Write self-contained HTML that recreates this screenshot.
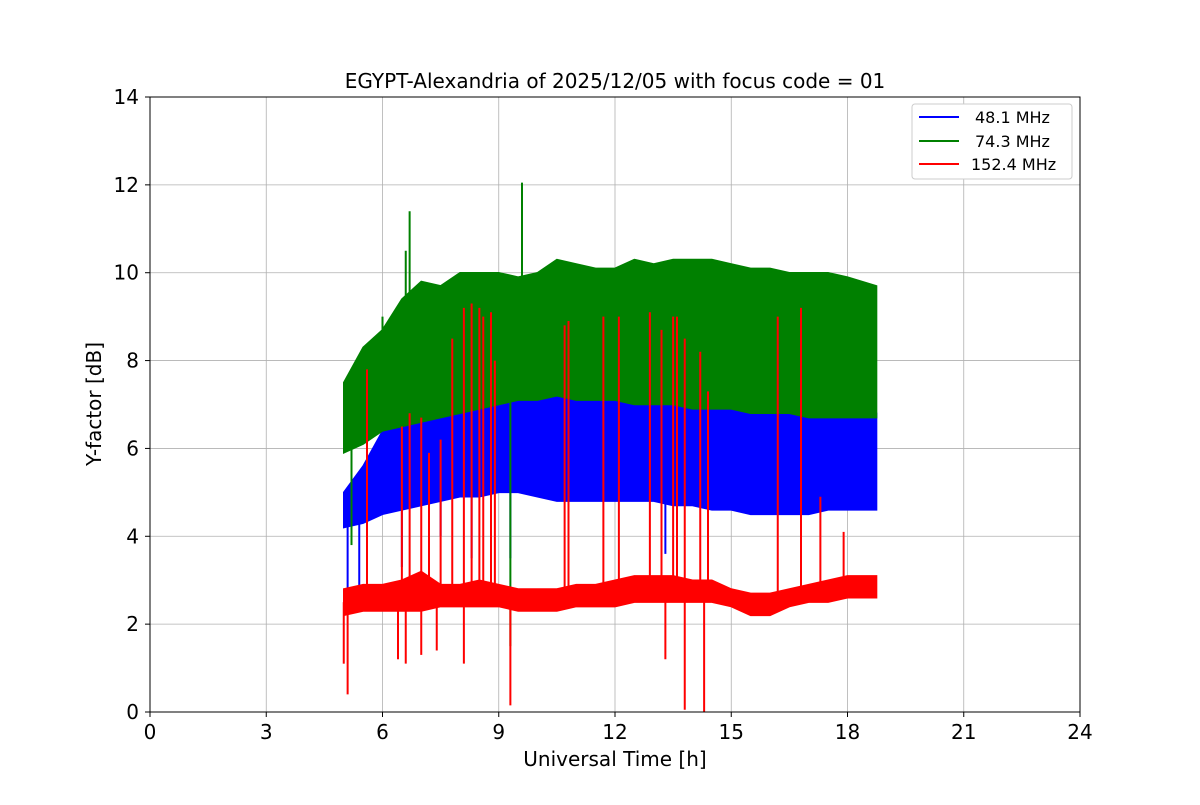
<!DOCTYPE html>
<html><head><meta charset="utf-8"><style>
body{margin:0;background:#fff}
svg text{font-family:"DejaVu Sans","Liberation Sans",sans-serif}
</style></head><body>
<svg id="chart" width="1200" height="800" xmlns="http://www.w3.org/2000/svg">
<rect width="1200" height="800" fill="#fff"/>
<g id="grid"></g>
<g id="series"></g>
<rect x="150" y="97" width="930" height="615" fill="none" stroke="#000" stroke-width="1"/>
<g id="ticks"></g>
<text x="615" y="88" font-size="20" text-anchor="middle">EGYPT-Alexandria of 2025/12/05 with focus code = 01</text>
<text x="615" y="766" font-size="20" text-anchor="middle">Universal Time [h]</text>
<text transform="translate(101,404) rotate(-90)" font-size="20" text-anchor="middle">Y-factor [dB]</text>
<g>
<rect x="912" y="104" width="160" height="75" rx="3" fill="#fff" stroke="#ccc"/>
<line x1="919" y1="117" x2="959" y2="117" stroke="blue" stroke-width="2"/>
<text x="975" y="123" font-size="16">48.1 MHz</text>
<line x1="919" y1="141" x2="959" y2="141" stroke="green" stroke-width="2"/>
<text x="975" y="147" font-size="16">74.3 MHz</text>
<line x1="919" y1="164" x2="959" y2="164" stroke="red" stroke-width="2"/>
<text x="971" y="170" font-size="16">152.4 MHz</text>
</g>
</svg>
<script>
const times=[5.0,5.5,6.0,6.5,7.0,7.5,8.0,8.5,9.0,9.5,10.0,10.5,11.0,11.5,12.0,12.5,13.0,13.5,14.0,14.5,15.0,15.5,16.0,16.5,17.0,17.5,18.0,18.75];
const blueLo=[4.2,4.3,4.5,4.6,4.7,4.8,4.9,4.9,5.0,5.0,4.9,4.8,4.8,4.8,4.8,4.8,4.8,4.7,4.7,4.6,4.6,4.5,4.5,4.5,4.5,4.6,4.6,4.6];
const blueHi=[5.0,5.6,6.4,6.7,6.9,7.0,7.1,7.2,7.3,7.3,7.2,7.3,7.3,7.3,7.4,7.3,7.3,7.2,7.2,7.1,7.0,6.9,6.9,6.9,6.9,6.9,6.9,6.8];
const greenLo=[5.9,6.1,6.4,6.5,6.6,6.7,6.8,6.9,7.0,7.1,7.1,7.2,7.1,7.1,7.1,7.0,7.0,7.0,6.9,6.9,6.9,6.8,6.8,6.8,6.7,6.7,6.7,6.7];
const greenHi=[7.5,8.3,8.7,9.4,9.8,9.7,10.0,10.0,10.0,9.9,10.0,10.3,10.2,10.1,10.1,10.3,10.2,10.3,10.3,10.3,10.2,10.1,10.1,10.0,10.0,10.0,9.9,9.7];
const redLo=[2.2,2.3,2.3,2.3,2.3,2.4,2.4,2.4,2.4,2.3,2.3,2.3,2.4,2.4,2.4,2.5,2.5,2.5,2.5,2.5,2.4,2.2,2.2,2.4,2.5,2.5,2.6,2.6];
const redHi=[2.8,2.9,2.9,3.0,3.2,2.9,2.9,3.0,2.9,2.8,2.8,2.8,2.9,2.9,3.0,3.1,3.1,3.1,3.0,3.0,2.8,2.7,2.7,2.8,2.9,3.0,3.1,3.1];
const greenSpikeT=[5.2,6.7,9.3,9.6,6.6,6.0];
const greenSpikeV=[3.8,11.4,1.5,12.05,10.5,9.0];
const blueSpikeT=[5.1,5.4,6.5,7.5,8.3,9.3,13.3];
const blueSpikeV=[2.5,2.5,3.3,4.0,3.5,3.5,3.6];
const redSpikeT=[5.6,6.5,6.7,7.0,7.2,7.5,7.8,8.1,8.3,8.5,8.6,8.8,8.9,10.7,10.8,11.7,12.1,12.9,13.2,13.5,13.6,13.8,14.2,14.4,16.2,16.8,17.3,17.9,5.0,5.1,6.4,6.6,7.0,7.4,8.1,9.3,13.3,13.8,14.3];
const redSpikeV=[7.8,6.5,6.8,6.7,5.9,6.2,8.5,9.2,9.3,9.2,9.0,9.1,8.0,8.8,8.9,9.0,9.0,9.1,8.7,9.0,9.0,8.5,8.2,7.3,9.0,9.2,4.9,4.1,1.1,0.4,1.2,1.1,1.3,1.4,1.1,0.15,1.2,0.05,0.0];
const xTicks=[0,3,6,9,12,15,18,21,24];
const yTicks=[0,2,4,6,8,10,12,14];
const X=t=>150+t/24*930, Y=v=>712-v/14*615;
const NS='http://www.w3.org/2000/svg';
function mk(tag,attrs,parent){const e=document.createElementNS(NS,tag);for(const k in attrs)e.setAttribute(k,attrs[k]);parent.appendChild(e);return e;}
const grid=document.getElementById('grid'),ticks=document.getElementById('ticks'),ser=document.getElementById('series');
xTicks.forEach(t=>{
 const g=mk('line',{x1:X(t),x2:X(t),y1:97,y2:712,stroke:'#b0b0b0','stroke-width':0.8},grid);
 
 mk('line',{x1:X(t),x2:X(t),y1:712,y2:717,stroke:'#000'},ticks);
 const l=mk('text',{x:X(t),y:739,'font-size':20,'text-anchor':'middle'},ticks);l.textContent=t;
 
});
yTicks.forEach(v=>{
 const g=mk('line',{x1:150,x2:1080,y1:Y(v),y2:Y(v),stroke:'#b0b0b0','stroke-width':0.8},grid);
 
 mk('line',{x1:145,x2:150,y1:Y(v),y2:Y(v),stroke:'#000'},ticks);
 const l=mk('text',{x:139,y:Y(v)+7,'font-size':20,'text-anchor':'end'},ticks);l.textContent=v;
 
});
function band(lo,hi,color,name,sT,sV){
 let pts=times.map((t,i)=>X(t)+','+Y(hi[i]));
 for(let i=times.length-1;i>=0;i--)pts.push(X(times[i])+','+Y(lo[i]));
 const p=mk('polygon',{points:pts.join(' '),fill:color,stroke:color,'stroke-width':1.5},ser);
 
 sT.forEach((t,i)=>{
  let j=0;while(j<times.length-2&&times[j+1]<t)j++;
  const mid=(lo[j]+hi[j])/2;
  const s=mk('line',{x1:X(t),x2:X(t),y1:Y(mid),y2:Y(sV[i]),stroke:color,'stroke-width':2},ser);
  
 });
}
band(blueLo,blueHi,'blue','series-48mhz',blueSpikeT,blueSpikeV);
band(greenLo,greenHi,'green','series-74mhz',greenSpikeT,greenSpikeV);
band(redLo,redHi,'red','series-152mhz',redSpikeT,redSpikeV);
</script>
</body></html>
